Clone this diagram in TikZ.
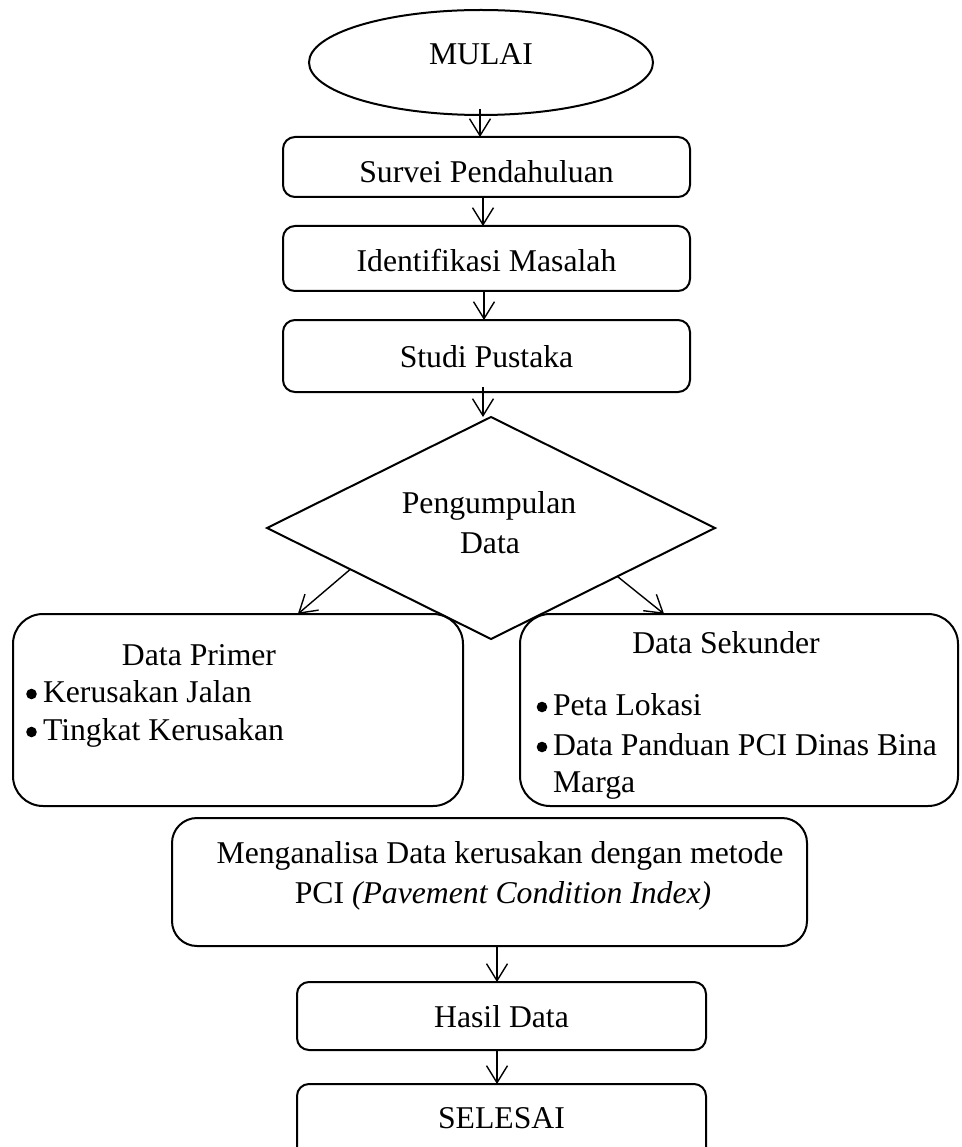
\documentclass[tikz,border=0pt]{standalone}
\usepackage{fontspec}
\setmainfont{Liberation Serif}
\usetikzlibrary{shapes.geometric,arrows.meta,calc}
\begin{document}
\begin{tikzpicture}[x=1pt,y=-1pt,
  every node/.style={font=\fontsize{31.7}{40}\selectfont, inner sep=0pt, outer sep=0pt},
  box/.style={draw, line width=2pt, rounded corners=12pt},
  bigbox/.style={draw, line width=2pt, rounded corners=30pt},
  arr/.style={line width=1.4pt, -{Straight Barb[length=17pt,width=21pt,line width=1.4pt]}},
  tl/.style={anchor=base},
  bl/.style={anchor=base west},
  bullet/.style={fill=black}
]
\useasboundingbox (0,0) rectangle (961,1147);

% start
\node[draw, ellipse, line width=2pt, minimum width=344pt, minimum height=105pt,
      text height=21pt, text depth=16pt] (mulai) at (481,62.5) {MULAI};

% process boxes
\node[box, minimum width=407pt, minimum height=60pt, text height=32pt, text depth=0pt]
  (survei) at (486.5,167) {Survei Pendahuluan};
\node[box, minimum width=407pt, minimum height=65pt, text height=27pt, text depth=0pt]
  (ident) at (486.5,258.5) {Identifikasi Masalah};
\node[box, minimum width=407pt, minimum height=72pt, text height=22pt, text depth=0pt]
  (studi) at (486.5,356) {Studi Pustaka};

% decision
\node[draw, diamond, line width=2pt, minimum width=448pt, minimum height=222pt]
  (dia) at (491,528) {};
\node[tl] (diat1) at (489,513) {Pengumpulan};
\node[tl] (diat2) at (490,553) {Data};

% data boxes
\node[bigbox, minimum width=450pt, minimum height=192pt] (primer) at (238,710) {};
\node[tl] (primt) at (199,665) {Data Primer};
\node[bl] (prim1) at (43,702) {Kerusakan Jalan};
\node[bl] (prim2) at (43,740) {Tingkat Kerusakan};
\fill[bullet] ([xshift=-11.5pt,yshift=8pt]prim1.base west) circle (5.3pt);
\fill[bullet] ([xshift=-11.5pt,yshift=8pt]prim2.base west) circle (5.3pt);

\node[bigbox, minimum width=438pt, minimum height=192pt] (sekunder) at (739,710) {};
\node[tl] (sekt) at (726,653) {Data Sekunder};
\node[bl] (sek1) at (553,715) {Peta Lokasi};
\node[bl] (sek2) at (553,755) {Data Panduan PCI Dinas Bina};
\node[bl] (sek3) at (553,792) {Marga};
\fill[bullet] ([xshift=-11pt,yshift=8pt]sek1.base west) circle (5.3pt);
\fill[bullet] ([xshift=-11pt,yshift=8pt]sek2.base west) circle (5.3pt);

% analysis
\node[draw, line width=2pt, rounded corners=25pt, minimum width=635pt, minimum height=128pt]
  (analisa) at (489.5,882) {};
\node[tl] (ana1) at (500,863) {Menganalisa Data kerusakan dengan metode};
\node[tl] (ana2) at (503,903) {PCI \textit{(Pavement Condition Index)}};

% result / end
\node[box, minimum width=409pt, minimum height=68pt, text height=22pt, text depth=0pt]
  (hasil) at (501.5,1016) {Hasil Data};
\node[box, minimum width=409pt, minimum height=81pt, text height=21pt, text depth=14pt]
  (selesai) at (501.5,1124.5) {SELESAI};

% connectors
\draw[arr] ([yshift=6pt]mulai.south -| 480,0) -- (survei.north -| 480,0);
\draw[arr] (survei.south -| 483,0) -- (ident.north -| 483,0);
\draw[arr] (ident.south -| 484,0) -- (studi.north -| 484,0);
\draw[arr] ([yshift=5pt]studi.south -| 483,0) -- (dia.north -| 483,0);
\draw[arr] ($(dia.west)!0.372!(dia.south)$) -- ($(primer.north west)!0.633!(primer.north east)$);
\draw[arr] ($(dia.east)!0.436!(dia.south)$) -- ($(sekunder.north west)!0.329!(sekunder.north east)$);
\draw[arr] (analisa.south -| 497,0) -- (hasil.north -| 497,0);
\draw[arr] (hasil.south -| 497,0) -- (selesai.north -| 497,0);
\end{tikzpicture}
\end{document}
